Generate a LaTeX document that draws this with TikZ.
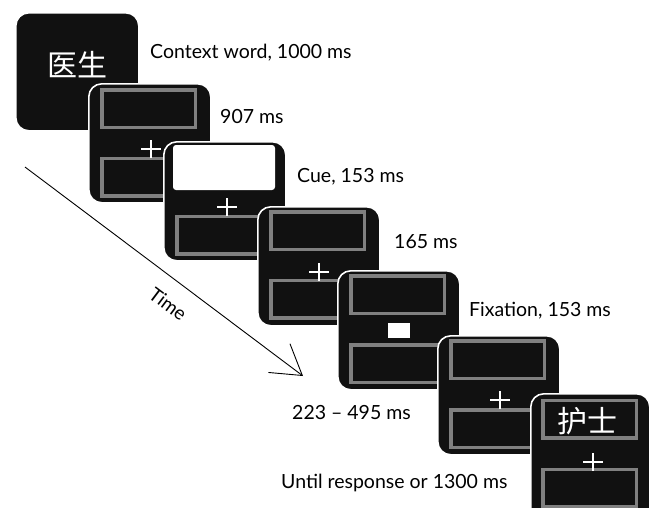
\documentclass[tikz,border=0pt]{standalone}
\usepackage{fontspec}
\setmainfont{Lato}
\newfontfamily\cjk{Noto Sans CJK SC}
\usetikzlibrary{arrows.meta}
\definecolor{scr}{HTML}{111111}
\definecolor{frm}{HTML}{808080}
\begin{document}
\begin{tikzpicture}[x=1pt,y=-1pt,
  screen/.style={draw=white, line width=1.6pt, fill=scr, rounded corners=13pt,
    minimum width=122pt, minimum height=119pt, inner sep=0pt, anchor=north west},
  frame/.style={draw=frm, line width=3.5pt, fill=scr, minimum width=93.5pt,
    minimum height=37.5pt, inner sep=0pt},
  cuebox/.style={fill=white, rounded corners=3pt, minimum width=102pt,
    minimum height=45pt, inner sep=0pt},
  fixsq/.style={fill=white, minimum width=22pt, minimum height=15pt, inner sep=0pt},
  crossmark/.style={minimum width=19pt, minimum height=17pt, inner sep=0pt},
  crossline/.style={draw=white, line width=2.6pt},
  lab/.style={anchor=base west, inner sep=0pt, font=\fontsize{19.5}{22}\selectfont},
  cjkword/.style={text=white, inner sep=0pt, font=\cjk\fontsize{30}{30}\selectfont},
  timearrow/.style={line width=0.9pt, -{Straight Barb[length=29pt,width=36pt]}}
]
\useasboundingbox[fill=white] (0,0) rectangle (651,507);

% screen 1: context word
\node[screen, minimum width=123pt, minimum height=118pt] (s1) at (15,12) {};
\node[cjkword] (w1) at (77,65) {医生};

% screen 2: 907 ms
\begin{scope}[shift={(88,83)}]
\node[screen] (s2) at (0,0) {};
\node[frame] (s2a) at (60.5,25.5) {};
\node[frame] (s2b) at (60.5,94) {};
\node[crossmark] (s2c) at (63,66) {};
\draw[crossline] (s2c.north) -- (s2c.south) (s2c.west) -- (s2c.east);
\end{scope}

% screen 3: cue
\begin{scope}[shift={(163,141)}]
\node[screen] (s3) at (0,0) {};
\node[cuebox] (s3a) at (61,26.5) {};
\node[frame] (s3b) at (60.5,94) {};
\node[crossmark] (s3c) at (64,66) {};
\draw[crossline] (s3c.north) -- (s3c.south) (s3c.west) -- (s3c.east);
\end{scope}

% screen 4: 165 ms
\begin{scope}[shift={(257,206)}]
\node[screen] (s4) at (0,0) {};
\node[frame] (s4a) at (60.5,24.5) {};
\node[frame] (s4b) at (60.5,93) {};
\node[crossmark] (s4c) at (62,66) {};
\draw[crossline] (s4c.north) -- (s4c.south) (s4c.west) -- (s4c.east);
\end{scope}

% screen 5: fixation
\begin{scope}[shift={(337,270)}]
\node[screen] (s5) at (0,0) {};
\node[frame] (s5a) at (60.5,24.5) {};
\node[frame] (s5b) at (60.5,93.5) {};
\node[fixsq] (s5c) at (62,60) {};
\end{scope}

% screen 6: 223-495 ms
\begin{scope}[shift={(437,335)}]
\node[screen] (s6) at (0,0) {};
\node[frame] (s6a) at (60.5,24.5) {};
\node[frame] (s6b) at (60.5,93.5) {};
\node[crossmark] (s6c) at (63,65) {};
\draw[crossline] (s6c.north) -- (s6c.south) (s6c.west) -- (s6c.east);
\end{scope}

% screen 7: target word
\begin{scope}[shift={(530,393)}]
\node[screen, minimum width=119pt, minimum height=130pt] (s7) at (0,0) {};
\node[frame] (s7a) at (59.5,26) {};
\node[frame] (s7b) at (59.5,95) {};
\node[cjkword] (w7) at (57,28) {护士};
\node[crossmark] (s7c) at (63,69) {};
\draw[crossline] (s7c.north) -- (s7c.south) (s7c.west) -- (s7c.east);
\end{scope}

% labels
\node[lab] (l1) at (150,58) {Context word, 1000 ms};
\node[lab] (l2) at (220,123) {907 ms};
\node[lab] (l3) at (297,182) {Cue, 153 ms};
\node[lab] (l4) at (394,248) {165 ms};
\node[lab] (l5) at (469,316) {Fixation, 153 ms};
\node[lab] (l6) at (292,419) {223 -- 495 ms};
\node[lab] (l7) at (281,488) {Until response or 1300 ms};

% time arrow
\coordinate (t0) at (25,167);
\coordinate (t1) at (303,376);
\draw[timearrow] (t0) -- (t1);
\node[rotate=-37, inner sep=0pt, font=\fontsize{19}{22}\selectfont] (time) at (168,304) {Time};
\end{tikzpicture}
\end{document}
